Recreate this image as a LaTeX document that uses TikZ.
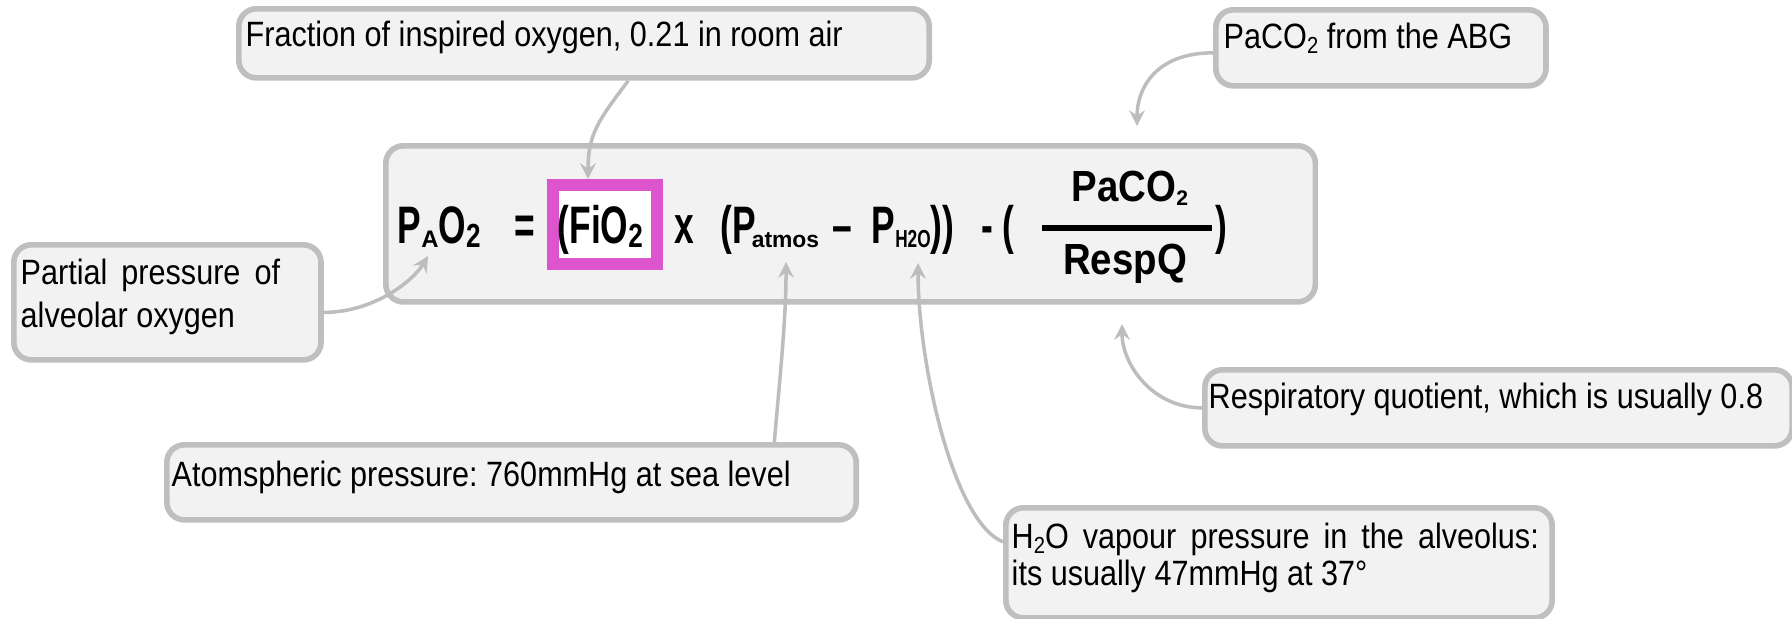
\documentclass[tikz,border=0pt]{standalone}
\usepackage{fontspec}
\usepackage{graphicx}
\setmainfont{Liberation Sans}
\usetikzlibrary{arrows.meta}
\definecolor{boxfill}{HTML}{F2F2F2}
\definecolor{boxline}{HTML}{BFBFBF}
\definecolor{linkc}{HTML}{BDBDBD}
\definecolor{hilite}{HTML}{DD55CC}
\frenchspacing
% annotation text: slightly condensed sans
\newcommand\ann[1]{\scalebox{0.87}[1]{\fontsize{10pt}{12pt}\selectfont #1}}
\newcommand\annw[1]{\scalebox{0.87}[1]{\fontsize{10pt}{12pt}\selectfont\spaceskip=0.46em\relax #1}}
\newcommand\asub[1]{\raisebox{-1.5pt}{\fontsize{6.6pt}{6.6pt}\selectfont #1}}
% formula pieces
\newcommand\fbig[1]{\scalebox{0.67}[1]{\fontsize{15pt}{16pt}\selectfont\bfseries #1}}
\newcommand\fsub[3][1]{\scalebox{#1}[1]{\raisebox{-1.2pt}{\fontsize{#2}{#2}\selectfont\bfseries #3}}}
\newcommand\ffr[1]{\scalebox{0.88}[1]{\fontsize{12.4pt}{13pt}\selectfont\bfseries #1}}
\tikzset{
  box/.style={draw=boxline, line width=1.6pt, fill=boxfill, rounded corners=5pt, inner sep=0pt, anchor=north west},
  lbl/.style={anchor=base west, inner sep=0pt, text=black},
  fml/.style={anchor=base west, inner sep=0pt, text=black},
  link/.style={draw=linkc, line width=1pt, -{Stealth[length=4.5pt,width=4.5pt,inset=1.6pt]}},
}
\begin{document}
\begin{tikzpicture}[x=0.01cm, y=-0.01cm]
\useasboundingbox (0,0) rectangle (1792,618);
% boxes
\node[box, minimum width=6.90cm, minimum height=0.69cm] (fracbox) at (236,6) {};
\node[box, minimum width=3.30cm, minimum height=0.76cm] (pacobox) at (1213,7) {};
\node[box, minimum width=9.29cm, minimum height=1.56cm] (mainbox) at (383,143) {};
\node[box, minimum width=3.07cm, minimum height=1.15cm] (partbox) at (11,242) {};
\node[box, minimum width=5.87cm, minimum height=0.76cm] (respbox) at (1202,367) {};
\node[box, minimum width=6.89cm, minimum height=0.75cm] (atmbox) at (164,442) {};
\node[box, minimum width=5.46cm, minimum height=1.10cm] (h2obox) at (1003,505) {};
% highlight
\node[draw=hilite, line width=3.4pt, fill=white, minimum width=1.04cm, minimum height=0.79cm, inner sep=0pt] (fiobox) at (605,224.5) {};
% annotation texts
\node[lbl] (fractext) at (245,47) {\ann{Fraction of inspired oxygen, 0.21 in room air}};
\node[lbl] (pacotext) at (1223,48) {\ann{PaCO\asub{2} from the ABG}};
\node[lbl] (partA) at (20,284) {\annw{Partial pressure of}};
\node[lbl] (partB) at (20,327) {\ann{alveolar oxygen}};
\node[lbl] (resptext) at (1208,408) {\ann{Respiratory quotient, which is usually 0.8}};
\node[lbl] (atmtext) at (171,486) {\ann{Atomspheric pressure: 760mmHg at sea level}};
\node[lbl] (h2oA) at (1011,548) {\annw{H\asub{2}O vapour pressure in the alveolus:}};
\node[lbl] (h2oB) at (1011,585) {\ann{its usually 47mmHg at 37°}};
% formula
\node[fml] (pao2) at (397,243) {\fbig{P}\fsub{6.8pt}{A}\fbig{O}\fsub[0.78]{9.5pt}{2}};
\node[fml] (eq) at (514,243) {\fbig{=}};
\node[fml] (fio2) at (557,243) {\fbig{(FiO}\fsub[0.78]{9.5pt}{2}};
\node[fml] (times) at (674,243) {\fbig{x}};
\node[fml] (patm) at (720,243) {\fbig{(P}\hspace{-1.2pt}\fsub{6.5pt}{atmos}};
\node[fml] (dash) at (832,243) {\fbig{–}};
\node[fml] (ph2o) at (871,243) {\fbig{P}\fsub[0.7]{7pt}{H2O}\fbig{))}};
\node[fml] (minus) at (981,243) {\fbig{-}};
\node[fml] (lpar) at (1002,243) {\fbig{(}};
\node[anchor=base, inner sep=0pt] (num) at (1130,201) {\ffr{PaCO}\fsub{6pt}{2}};
\node[fill=black, inner sep=0pt, minimum width=1.70cm, minimum height=1.6pt] (bar) at (1127,228) {};
\node[anchor=base, inner sep=0pt] (den) at (1125,274) {\ffr{RespQ}};
\node[fml] (rpar) at (1215,243) {\fbig{)}};
% connectors
\draw[link] ([xshift=3.92cm]fracbox.south west) .. controls +(-30,40) and +(0,-45) .. ([xshift=0.41cm]fiobox.north west);
\draw[link] ([yshift=-0.1cm]partbox.east) .. controls +(50,0) and +(-15,25) .. ([xshift=0.31cm,yshift=-0.13cm]pao2.base west);
\draw[link] ([xshift=6.1cm]atmbox.north west) .. controls +(5,-60) and +(0,60) .. ([xshift=0.66cm,yshift=-0.19cm]patm.base west);
\draw[link] ([yshift=0.21cm]h2obox.west) .. controls +(-50,-20) and +(0,100) .. ([xshift=0.47cm,yshift=-0.2cm]ph2o.base west);
\draw[link] (respbox.west) .. controls +(-50,0) and +(0,40) .. ([xshift=-0.03cm,yshift=-0.5cm]den.base);
\draw[link] ([yshift=-0.05cm]pacobox.west) .. controls +(-55,0) and +(0,-40) .. ([xshift=0.07cm,yshift=0.75cm]num.base);
\end{tikzpicture}
\end{document}
